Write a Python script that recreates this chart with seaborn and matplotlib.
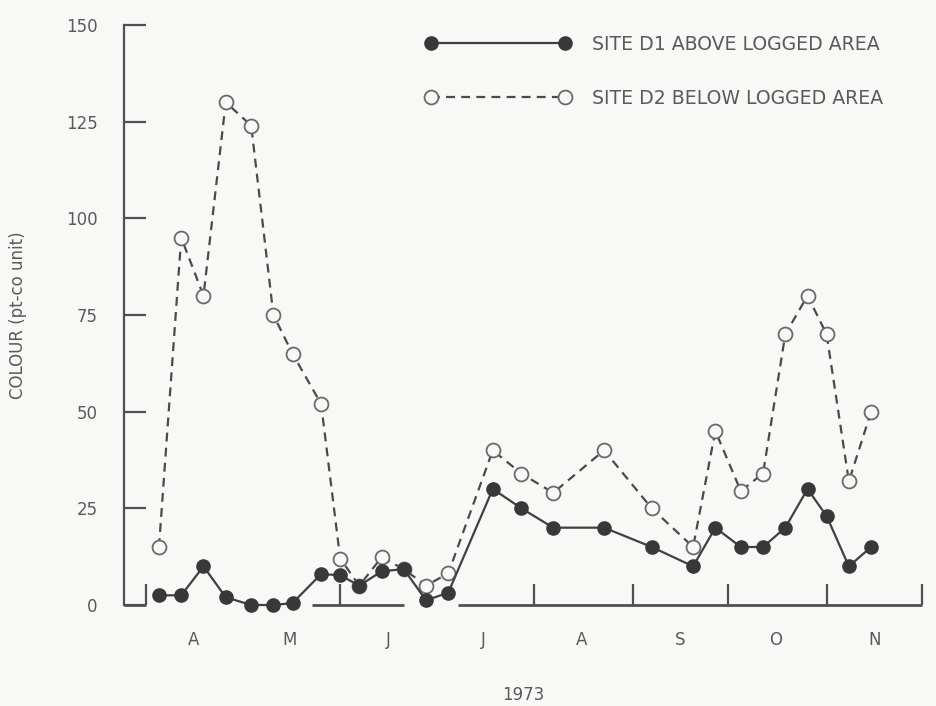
import matplotlib
matplotlib.use('Agg')
import matplotlib.pyplot as plt
import pandas as pd
import seaborn as sns

# Sampling dates (1973) and colour values
dates = ['1973-04-05', '1973-04-12', '1973-04-19', '1973-04-26', '1973-05-04',
         '1973-05-11', '1973-05-17', '1973-05-26', '1973-06-01', '1973-06-07',
         '1973-06-14', '1973-06-21', '1973-06-28', '1973-07-05', '1973-07-19',
         '1973-07-28', '1973-08-07', '1973-08-23', '1973-09-07', '1973-09-20',
         '1973-09-27', '1973-10-05', '1973-10-12', '1973-10-19', '1973-10-26',
         '1973-11-01', '1973-11-08', '1973-11-15']
site_d1 = [2.5, 2.5, 10, 2, 0, 0, 0.5, 8, 7.7, 5,
           8.7, 9.3, 1.2, 3.2, 30, 25, 20, 20, 15, 10,
           20, 15, 15, 20, 30, 23, 10, 15]
site_d2 = [15, 95, 80, 130, 124, 75, 65, 52, 12, 5,
           12.3, 9.3, 5, 8.2, 40, 34, 29, 40, 25, 15,
           45, 29.5, 34, 70, 80, 70, 32, 50]

labels = ['SITE D1 ABOVE LOGGED AREA', 'SITE D2 BELOW LOGGED AREA']
month_labels = ['A', 'M', 'J', 'J', 'A', 'S', 'O', 'N']
month_mid = ['1973-04-16', '1973-05-16', '1973-06-16', '1973-07-16',
             '1973-08-16', '1973-09-16', '1973-10-16', '1973-11-16']
month_ticks = ['1973-04-01', '1973-06-01', '1973-08-01', '1973-09-01',
               '1973-10-01', '1973-11-01', '1973-12-01']
axis_pieces = [('1973-03-25', '1973-04-01'), ('1973-05-23', '1973-06-21'),
               ('1973-07-08', '1973-12-01')]
y_ticks = [0, 25, 50, 75, 100, 125, 150]

df = pd.DataFrame({'data': pd.to_datetime(dates), 'd1': site_d1, 'd2': site_d2})

bg = '#f8f8f6'
text_col = '#5a5a5a'
axis_col = '#505050'
dark = '#383838'

sns.set_style('ticks')
plt.rcParams['font.family'] = ['DejaVu Sans']

fig = plt.figure(figsize=(9.37, 7.06), dpi=100, facecolor=bg)
ax = fig.add_axes([124 / 937, 1 - 605 / 706, (922 - 124) / 937, (605 - 25) / 706])
ax.set_facecolor(bg)

# site D2 (open circles, dashed) first so the filled D1 markers sit on top
sns.lineplot(data=df, x='data', y='d2', ax=ax, color='#4a4a4a', linewidth=1.6,
             linestyle=(0, (4, 2.8)), marker='o', markersize=10,
             markerfacecolor=bg, markeredgecolor='#6a6a6a', markeredgewidth=1.3,
             clip_on=False, zorder=3)
sns.lineplot(data=df, x='data', y='d1', ax=ax, color='#404040', linewidth=1.6,
             marker='o', markersize=9.5, markerfacecolor=dark, markeredgecolor=dark,
             markeredgewidth=1, clip_on=False, zorder=4)

# broken x axis line, as in the original figure
for a, b in axis_pieces:
    ax.hlines(0, pd.Timestamp(a), pd.Timestamp(b), color=axis_col, linewidth=2,
              clip_on=False, zorder=2)

ax.set_xlim(pd.Timestamp('1973-03-25'), pd.Timestamp('1973-12-01'))
ax.set_ylim(0, 150)

for s in ['top', 'right', 'bottom']:
    ax.spines[s].set_visible(False)
ax.spines['left'].set_color(axis_col)
ax.spines['left'].set_linewidth(1.6)

ax.set_yticks(y_ticks)
ax.tick_params(axis='y', direction='in', length=16, width=1.6, color=axis_col,
               labelsize=12, labelcolor=text_col, pad=19)

ax.set_xticks(pd.to_datetime(month_ticks))
ax.set_xticklabels([''] * len(month_ticks))
ax.set_xticks(pd.to_datetime(month_mid), minor=True)
ax.set_xticklabels(month_labels, minor=True)
ax.tick_params(axis='x', which='major', direction='in', length=15, width=1.6, color=axis_col)
ax.tick_params(axis='x', which='minor', length=0, pad=19, labelsize=12, labelcolor=text_col)

ax.set_xlabel('1973', fontsize=12, color=text_col, labelpad=26)
ax.set_ylabel('COLOUR (pt-co unit)', fontsize=12, color=text_col, labelpad=28)

leg = ax.legend(handles=[ax.lines[1], ax.lines[0]], labels=labels, numpoints=2,
                handlelength=7.7, handletextpad=1.15, labelspacing=1.85, frameon=False,
                fontsize=13.6, loc='upper left', bbox_to_anchor=(425 / 937, 1 - 35 / 706),
                bbox_transform=fig.transFigure, borderpad=0, borderaxespad=0)
for t in leg.get_texts():
    t.set_color(text_col)

fig.savefig('out.png', dpi=100, facecolor=bg)
